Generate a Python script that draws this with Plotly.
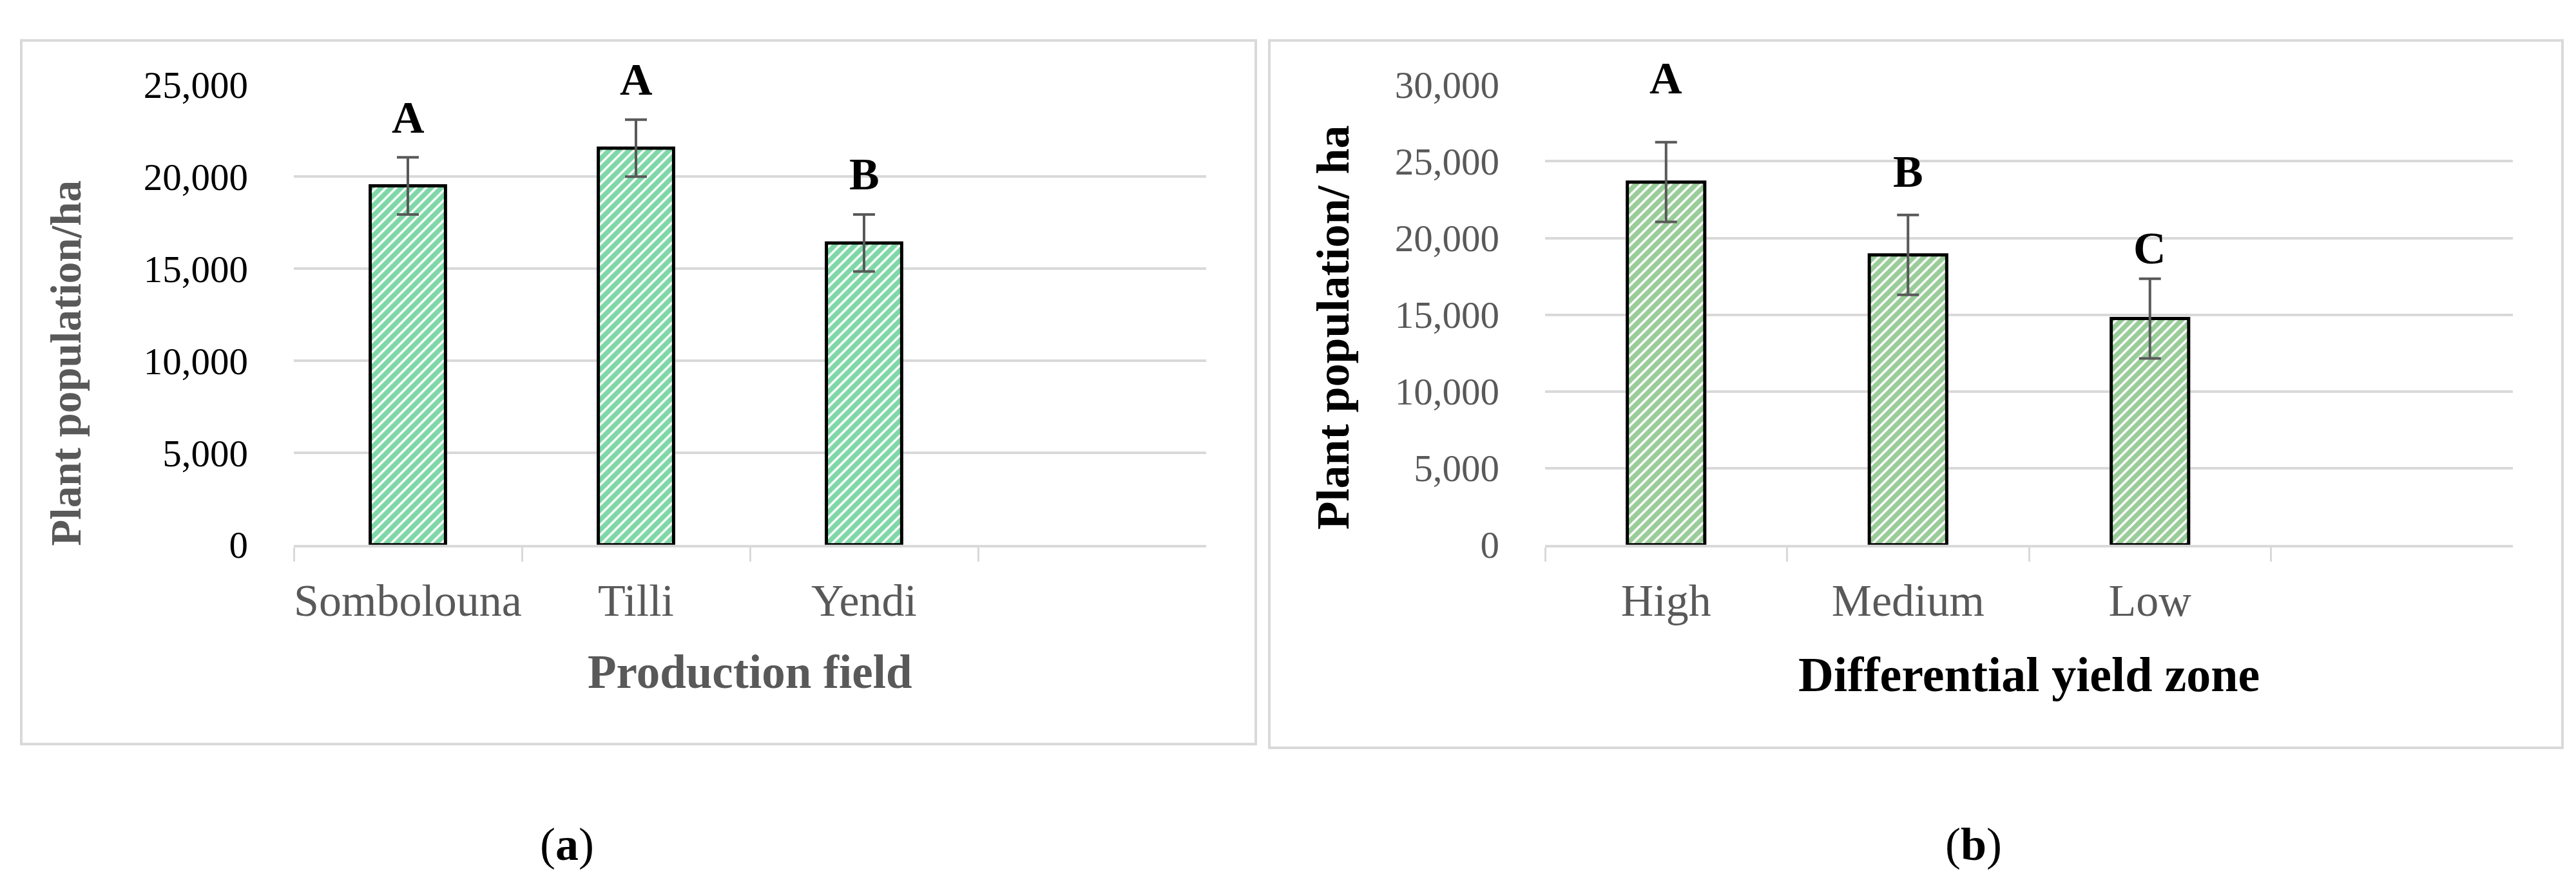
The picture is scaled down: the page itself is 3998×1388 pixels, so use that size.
import plotly.graph_objects as go

# ---------------- data ----------------
fields = ["Sombolouna", "Tilli", "Yendi"]
field_means = [19500, 21550, 16400]
field_errors = [1550, 1550, 1550]
field_letters = ["A", "A", "B"]

zones = ["High", "Medium", "Low"]
zone_means = [23650, 18900, 14750]
zone_errors = [2600, 2600, 2600]
zone_letters = ["A", "B", "C"]

left_yticks = [0, 5000, 10000, 15000, 20000, 25000]
right_yticks = [0, 5000, 10000, 15000, 20000, 25000, 30000]

# ---------------- styling ----------------
W, H = 3998, 1388
FONT = "Liberation Serif, Times New Roman, serif"
GRID = "#D9D9D9"
GRAY_TXT = "#595959"


def px_x(x):
    return x / W


def px_y(y):
    return 1 - y / H


fig = go.Figure()

fig.add_trace(go.Bar(
    x=fields, y=field_means, width=0.33,
    marker=dict(color="white", line=dict(color="black", width=5),
                pattern=dict(shape="/", fgcolor="#00B050", bgcolor="white",
                             size=11, solidity=0.7)),
    error_y=dict(type="data", array=field_errors, visible=True,
                 color=GRAY_TXT, thickness=4, width=17),
    xaxis="x", yaxis="y", showlegend=False,
))

fig.add_trace(go.Bar(
    x=zones, y=zone_means, width=0.32,
    marker=dict(color="white", line=dict(color="black", width=5),
                pattern=dict(shape="/", fgcolor="#339933", bgcolor="white",
                             size=11, solidity=0.7)),
    error_y=dict(type="data", array=zone_errors, visible=True,
                 color=GRAY_TXT, thickness=4, width=17),
    xaxis="x2", yaxis="y2", showlegend=False,
))

xaxis_common = dict(
    type="category", range=[-0.5, 3.5], showline=True, linecolor=GRID,
    linewidth=4, ticks="outside", tickson="boundaries", ticklen=22,
    tickwidth=3, tickcolor=GRID, showgrid=False, zeroline=False,
    tickangle=0, ticklabelstandoff=22,
    tickfont=dict(family=FONT, size=70, color=GRAY_TXT),
)
yaxis_common = dict(
    showgrid=True, gridcolor=GRID, gridwidth=4, zeroline=False,
    showline=False, ticks="", tickformat=",", ticklabelstandoff=70,
)

fig.update_layout(
    width=W, height=H, margin=dict(l=0, r=0, t=0, b=0),
    paper_bgcolor="white", plot_bgcolor="white",
    xaxis=dict(domain=[px_x(448), px_x(1864)], anchor="y",
               categoryorder="array", categoryarray=fields, **xaxis_common),
    yaxis=dict(domain=[px_y(846), px_y(96)], anchor="x", range=[0, 25000],
               tickvals=left_yticks,
               tickfont=dict(family=FONT, size=59, color="black"),
               **yaxis_common),
    xaxis2=dict(domain=[px_x(2390), px_x(3892)], anchor="y2",
                categoryorder="array", categoryarray=zones, **xaxis_common),
    yaxis2=dict(domain=[px_y(846), px_y(96)], anchor="x2", range=[0, 30000],
                tickvals=right_yticks,
                tickfont=dict(family=FONT, size=59, color=GRAY_TXT),
                **yaxis_common),
)

# panel borders
shapes = [
    dict(type="rect", xref="paper", yref="paper",
         x0=px_x(25), x1=px_x(1941), y0=px_y(1171), y1=px_y(24),
         line=dict(color=GRID, width=4), fillcolor="rgba(0,0,0,0)", layer="below"),
    dict(type="rect", xref="paper", yref="paper",
         x0=px_x(1962), x1=px_x(3969), y0=px_y(1177), y1=px_y(24),
         line=dict(color=GRID, width=4), fillcolor="rgba(0,0,0,0)", layer="below"),
]
fig.update_layout(shapes=shapes)

ann = []
# significance letters
left_shift = [62, 62, 62]
for c, m, e, l, s in zip(fields, field_means, field_errors, field_letters, left_shift):
    ann.append(dict(x=c, y=m + e, xref="x", yref="y", text=f"<b>{l}</b>",
                    showarrow=False, yanchor="middle", yshift=s,
                    font=dict(family=FONT, size=70, color="black")))
right_shift = [99, 67, 47]
for c, m, e, l, s in zip(zones, zone_means, zone_errors, zone_letters, right_shift):
    ann.append(dict(x=c, y=m + e, xref="x2", yref="y2", text=f"<b>{l}</b>",
                    showarrow=False, yanchor="middle", yshift=s,
                    font=dict(family=FONT, size=70, color="black")))

# axis titles
ann.append(dict(x=px_x(94), y=px_y(550), xref="paper", yref="paper",
                text="<b>Plant population/ha</b>", textangle=-90, showarrow=False,
                xanchor="center", yanchor="middle",
                font=dict(family=FONT, size=67, color=GRAY_TXT)))
ann.append(dict(x=px_x(2061), y=px_y(492), xref="paper", yref="paper",
                text="<b>Plant population/ ha</b>", textangle=-90, showarrow=False,
                xanchor="center", yanchor="middle",
                font=dict(family=FONT, size=72, color="black")))
ann.append(dict(x=px_x(1156), y=px_y(1054), xref="paper", yref="paper",
                text="<b>Production field</b>", showarrow=False,
                xanchor="center", yanchor="middle",
                font=dict(family=FONT, size=73, color=GRAY_TXT)))
ann.append(dict(x=px_x(3141), y=px_y(1057), xref="paper", yref="paper",
                text="<b>Differential yield zone</b>", showarrow=False,
                xanchor="center", yanchor="middle",
                font=dict(family=FONT, size=76, color="black")))
# panel labels
ann.append(dict(x=px_x(872), y=px_y(1334), xref="paper", yref="paper",
                text="(<b>a</b>)", showarrow=False, xanchor="center", yanchor="middle",
                font=dict(family=FONT, size=72, color="black")))
ann.append(dict(x=px_x(3055), y=px_y(1334), xref="paper", yref="paper",
                text="(<b>b</b>)", showarrow=False, xanchor="center", yanchor="middle",
                font=dict(family=FONT, size=72, color="black")))
fig.update_layout(annotations=ann)

fig.write_html("out.html")
